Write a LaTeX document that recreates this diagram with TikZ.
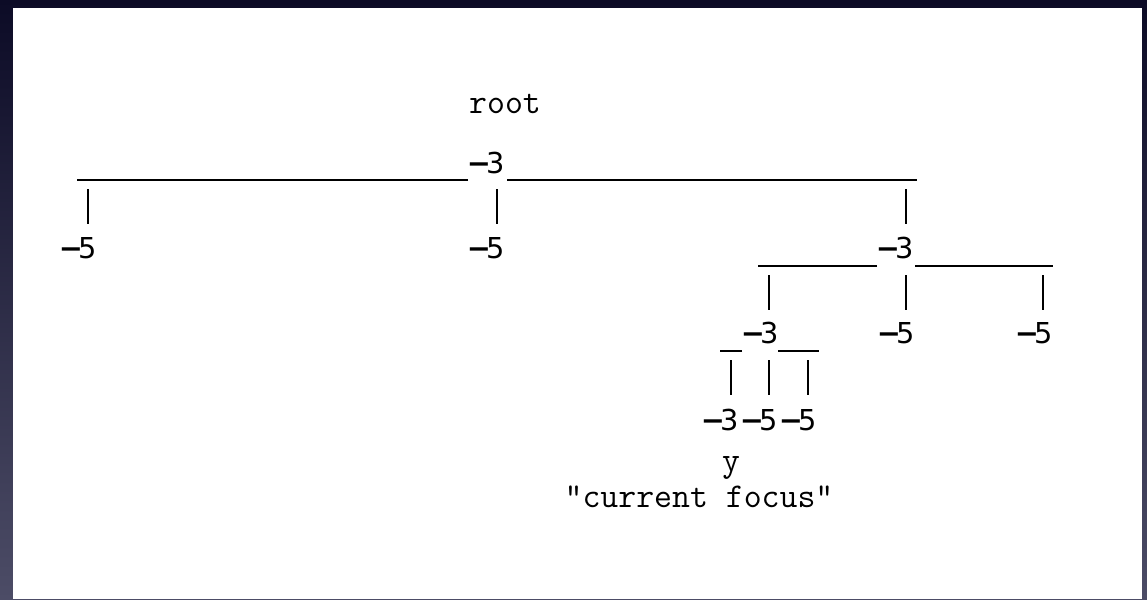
\documentclass[tikz,border=0pt]{standalone}
\usepackage{fontspec}
\newfontfamily\numfont{DejaVu Sans}
\newcommand\mn{{\bfseries −}\kern-0.14em}
\definecolor{frametop}{HTML}{0C0B26}
\definecolor{framebot}{HTML}{4C4C66}
\begin{document}
\begin{tikzpicture}[x=0.02cm,y=-0.02cm,
  word/.style={anchor=base,inner sep=0pt,font=\ttfamily\fontsize{19.8}{22}\selectfont},
  num/.style={anchor=base,inner sep=0pt,font=\numfont\fontsize{16.4}{19}\selectfont},
  wire/.style={line width=1.1pt}]
\shade[top color=frametop,bottom color=framebot] (0,0) rectangle (1147,599);
\fill[white] (13,8) rectangle (1142,599);
% level 0
\node[word] (root) at (505,113) {root};
\node[num] (n0) at (486,173) {\mn3};
% level 1
\node[num] (a) at (78,258) {\mn5};
\node[num] (b) at (486,258) {\mn5};
\node[num] (c) at (895,258) {\mn3};
% level 2
\node[num] (d) at (760,343) {\mn3};
\node[num] (e) at (896,343) {\mn5};
\node[num] (f) at (1034,343) {\mn5};
% level 3
\node[num] (g) at (720,430) {\mn3};
\node[num] (h) at (759,430) {\mn5};
\node[num] (i) at (798,430) {\mn5};
\node[word] (y) at (731,471) {y};
\node[word] (focus) at (699,507) {"current focus"};
% n0 to its children
\draw[wire] ([shift={(-18,7)}]n0.base) -- ([shift={(-1,-78)}]a.base);
\draw[wire] ([shift={(21,7)}]n0.base) -- ([shift={(22,-78)}]c.base);
\draw[wire] ([shift={(10,-69)}]a.base) -- ([shift={(10,-34)}]a.base);
\draw[wire] ([shift={(11,-69)}]b.base) -- ([shift={(11,-34)}]b.base);
\draw[wire] ([shift={(11,-69)}]c.base) -- ([shift={(11,-34)}]c.base);
% c to its children
\draw[wire] ([shift={(-18,8)}]c.base) -- ([shift={(-2,-77)}]d.base);
\draw[wire] ([shift={(20,8)}]c.base) -- ([shift={(19,-77)}]f.base);
\draw[wire] ([shift={(9,-68)}]d.base) -- ([shift={(9,-33)}]d.base);
\draw[wire] ([shift={(10,-68)}]e.base) -- ([shift={(10,-33)}]e.base);
\draw[wire] ([shift={(9,-68)}]f.base) -- ([shift={(9,-33)}]f.base);
% d to its children
\draw[wire] ([shift={(-18,8)}]d.base) -- ([shift={(0,-79)}]g.base);
\draw[wire] ([shift={(18,8)}]d.base) -- ([shift={(21,-79)}]i.base);
\draw[wire] ([shift={(11,-70)}]g.base) -- ([shift={(11,-35)}]g.base);
\draw[wire] ([shift={(10,-70)}]h.base) -- ([shift={(10,-35)}]h.base);
\draw[wire] ([shift={(10,-70)}]i.base) -- ([shift={(10,-35)}]i.base);
\end{tikzpicture}
\end{document}
